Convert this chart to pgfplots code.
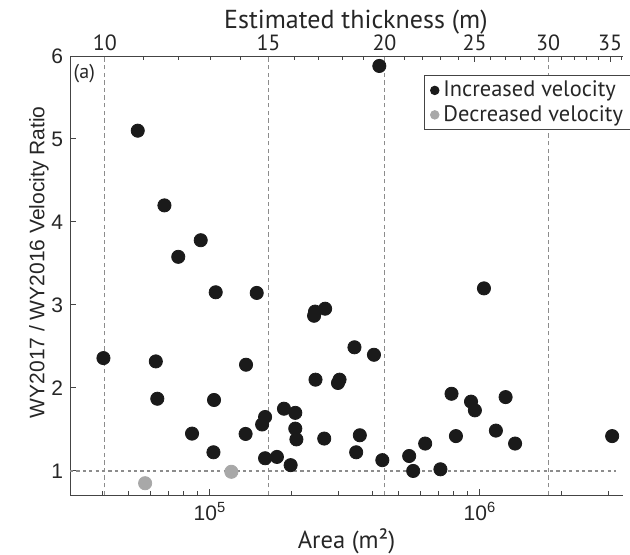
\documentclass[border=0pt]{standalone}
\usepackage{pgfplots}
\pgfplotsset{compat=1.18}
\usepackage{fontspec}
\setmainfont{Liberation Sans}
\newfontfamily\myriad{PT Sans}
\definecolor{dotblack}{HTML}{1A1A1A}
\definecolor{dotgray}{HTML}{A8A8A8}
\definecolor{guide}{HTML}{8C8C8C}
\definecolor{axcol}{HTML}{444444}

\pgfplotstableread{
x y
40300 2.36
54000 5.10
63000 2.32
63800 1.87
67800 4.20
76300 3.58
85800 1.45
92400 3.78
103000 1.225
103500 1.855
105000 3.153
135500 1.446
136000 2.28
149000 3.145
156000 1.56
160000 1.65
160000 1.153
177000 1.169
188000 1.75
199000 1.07
207000 1.70
207000 1.51
209000 1.38
243000 2.87
245000 2.92
246000 2.10
265000 1.39
267000 2.955
298000 2.06
302000 2.10
343000 2.49
348000 1.225
359000 1.43
405000 2.40
424000 5.88
435000 1.13
547000 1.18
566000 1.00
627000 1.33
714000 1.02
785000 1.93
815000 1.42
927000 1.835
958000 1.73
1035000 3.20
1146000 1.486
1245000 1.89
1350000 1.33
3090000 1.42
}\incdata

\pgfplotstableread{
x y
57500 0.852
120000 0.99
}\decdata

\begin{document}
\begin{tikzpicture}
\useasboundingbox (-35pt,-29.5pt) rectangle (280pt,247.5pt);
% top axis: estimated thickness (log scale in thickness)
\begin{axis}[
  width=276.5pt, height=219.5pt, scale only axis,
  at={(0,0)}, anchor=south west,
  xmode=log, xmin=9.17, xmax=36.13, ymin=0.71, ymax=6,
  axis x line*=top, axis y line=none,
  axis line style={axcol, line width=0.5pt},
  tick align=inside,
  xtick={10,15,20,25,30,35},
  xticklabels={10,15,20,25,30,35},
  minor xtick={11,12,13,14,16,17,18,19,21,22,23,24,26,27,28,29,31,32,33,34,36},
  major tick length=3.2pt, minor tick length=2pt,
  tick style={axcol, line width=0.5pt},
  xticklabel style={font=\myriad\fontsize{11}{12}\selectfont, text=black!85, yshift=-1pt},
  xlabel={Estimated thickness (m)},
  xlabel style={font=\myriad\fontsize{13}{15}\selectfont, text=black!85, at={(axis description cs:0.517,1.0)}, anchor=base, yshift=14pt},
  clip=false,
]
\addplot[guide, line width=0.5pt, dash pattern=on 2.2pt off 1.6pt] coordinates {(10,0.71) (10,6)};
\addplot[guide, line width=0.5pt, dash pattern=on 2.2pt off 1.6pt] coordinates {(15,0.71) (15,6)};
\addplot[guide, line width=0.5pt, dash pattern=on 2.2pt off 1.6pt] coordinates {(20,0.71) (20,6)};
\addplot[guide, line width=0.5pt, dash pattern=on 2.2pt off 1.6pt] coordinates {(30,0.71) (30,6)};
\end{axis}
% main axis
\begin{axis}[
  width=276.5pt, height=219.5pt, scale only axis,
  at={(0,0)}, anchor=south west,
  xmode=log, xmin=30300, xmax=3390000, ymin=0.71, ymax=6,
  axis x line*=bottom, axis y line*=left,
  axis line style={axcol, line width=0.5pt},
  tick align=inside,
  xtick={100000,1000000},
  xticklabels={10\textsuperscript{5},10\textsuperscript{6}},
  minor xtick={40000,50000,60000,70000,80000,90000,200000,300000,400000,500000,600000,700000,800000,900000,2000000,3000000},
  ytick={1,2,3,4,5,6},
  /pgf/number format/assume math mode=true,
  major tick length=3.2pt, minor tick length=2pt,
  tick style={axcol, line width=0.5pt},
  ticklabel style={font=\fontsize{10.5}{12}\selectfont, text=black!85},
  xlabel={Area (m²)},
  xlabel style={font=\myriad\fontsize{12.3}{14}\selectfont, text=black!85, at={(axis description cs:0.5,-0.121)}, anchor=base},
  ylabel={WY2017 / WY2016 Velocity Ratio},
  ylabel style={font=\fontsize{10.5}{12}\selectfont, text=black!85, at={(axis description cs:-0.056,0.53)}, anchor=center},
  legend style={at={(1.017,0.957)}, anchor=north east, draw=axcol, line width=0.5pt,
    font=\myriad\fontsize{11.2}{13}\selectfont, text=black!85, inner xsep=2.5pt, inner ysep=0.8pt,
    row sep=-1.2pt, cells={anchor=west}},
  legend image code/.code={\path (-2.5pt,0pt) (2pt,0pt); \fill[#1] (0pt,0pt) circle (2.1pt);},
  clip=false,
]
\addplot[guide, line width=0.6pt, dash pattern=on 1.6pt off 1.6pt, forget plot] coordinates {(30300,1) (3200000,1)};
\addplot[only marks, mark=*, mark size=3.3pt, color=dotblack, mark options={draw=dotblack, fill=dotblack}] table[x=x, y=y] {\incdata};
\addlegendentry{Increased velocity}
\addplot[only marks, mark=*, mark size=3.3pt, color=dotgray, mark options={draw=dotgray, fill=dotgray}] table[x=x, y=y] {\decdata};
\addlegendentry{Decreased velocity}
\node[font=\myriad\fontsize{10}{11}\selectfont, text=black!85, anchor=north west, inner sep=0pt] at (rel axis cs:0.006,0.982) {(a)};
\end{axis}
\end{tikzpicture}
\end{document}
